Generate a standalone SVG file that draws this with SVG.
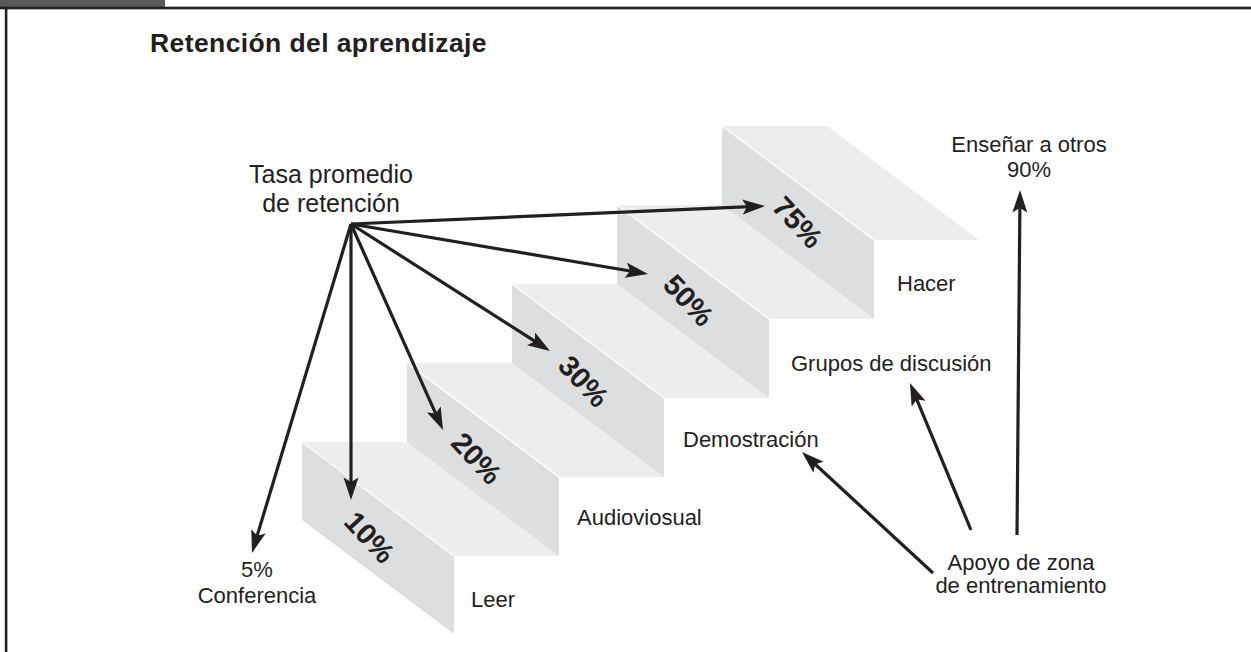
<svg xmlns="http://www.w3.org/2000/svg" width="1251" height="652" viewBox="0 0 1251 652">
<defs>
<style>
.t{font-family:"Liberation Sans",Arial,sans-serif;font-size:22px;fill:#231f20}
.c{text-anchor:middle}
.title{font-family:"Liberation Sans",Arial,sans-serif;font-size:26.5px;font-weight:bold;fill:#231f20;letter-spacing:0.4px}
.pct{font-family:"Liberation Sans",Arial,sans-serif;font-size:29px;font-weight:bold;fill:#231f20;text-anchor:middle}
.face{fill:#dddee0}
.tread{fill:#ededee}
.edge{stroke:#ffffff;stroke-width:1.2;fill:none}
.arr{stroke:#231f20;stroke-width:3.2;fill:none;marker-end:url(#ah)}
</style>
<marker id="ah" markerUnits="userSpaceOnUse" markerWidth="30" markerHeight="20" viewBox="-10 -10 30 20" refX="0" refY="0" orient="auto">
<path d="M15,0 L-7.5,-7.5 L-3,0 L-7.5,7.5 Z" fill="#231f20"/>
</marker>
</defs>
<rect width="1251" height="652" fill="#ffffff"/>
<g id="frame">
<rect x="0" y="0" width="165" height="7" fill="#58595b"/>
<rect x="0" y="6.7" width="1251" height="2.6" fill="#231f20"/>
<rect x="4.8" y="6.7" width="2.6" height="646" fill="#231f20"/>
</g>
<text id="title" class="title" x="150" y="52">Retención del aprendizaje</text>
<g id="stairs">
<g id="step-10">
<polygon class="tread" points="302,442 407,442 559,556 454,556"/>
<polygon class="face" points="302,442 454,556 454,634 302,520"/>
<line class="edge" x1="302" y1="442" x2="454" y2="556"/>
</g>
<g id="step-20">
<polygon class="tread" points="407,363 512,363 664,477 559,477"/>
<polygon class="face" points="407,363 559,477 559,556 407,442"/>
<line class="edge" x1="407" y1="363" x2="559" y2="477"/>
</g>
<g id="step-30">
<polygon class="tread" points="512,284 617,284 769,398 664,398"/>
<polygon class="face" points="512,284 664,398 664,477 512,363"/>
<line class="edge" x1="512" y1="284" x2="664" y2="398"/>
</g>
<g id="step-50">
<polygon class="tread" points="617,205 722,205 874,319 769,319"/>
<polygon class="face" points="617,205 769,319 769,398 617,284"/>
<line class="edge" x1="617" y1="205" x2="769" y2="319"/>
</g>
<g id="step-75">
<polygon class="tread" points="722,126 827,126 979,240 874,240"/>
<polygon class="face" points="722,126 874,240 874,319 722,205"/>
<line class="edge" x1="722" y1="126" x2="874" y2="240"/>
</g>
<g id="pct-labels">
<text class="pct" transform="translate(370,537) rotate(47)" x="0" y="10.5">10%</text>
<text class="pct" transform="translate(477,458) rotate(47)" x="0" y="10.5">20%</text>
<text class="pct" transform="translate(584,381) rotate(47)" x="0" y="10.5">30%</text>
<text class="pct" transform="translate(689,300) rotate(47)" x="0" y="10.5">50%</text>
<text class="pct" transform="translate(798,222) rotate(47)" x="0" y="10.5">75%</text>
</g>
</g>
<g id="node-tasa">
<text class="t c" x="331" y="183" style="font-size:25px">Tasa promedio</text>
<text class="t c" x="331" y="212" style="font-size:25px">de retención</text>
</g>
<g id="node-ensenar">
<text class="t c" x="1029" y="152">Enseñar a otros</text>
<text class="t c" x="1029" y="177">90%</text>
</g>
<g id="node-hacer"><text class="t" x="897" y="291">Hacer</text></g>
<g id="node-grupos"><text class="t" x="791" y="371">Grupos de discusión</text></g>
<g id="node-demostracion"><text class="t" x="683" y="447">Demostración</text></g>
<g id="node-audiovisual"><text class="t" x="577" y="525">Audioviosual</text></g>
<g id="node-leer"><text class="t" x="471" y="607">Leer</text></g>
<g id="node-conferencia">
<text class="t c" x="257" y="577">5%</text>
<text class="t c" x="257" y="603">Conferencia</text>
</g>
<g id="node-apoyo">
<text class="t c" x="1021" y="570">Apoyo de zona</text>
<text class="t c" x="1021" y="593">de entrenamiento</text>
</g>
<g id="connectors">
<line class="arr" x1="351" y1="224" x2="256.3" y2="538.6"/>
<line class="arr" x1="351" y1="224" x2="351" y2="485"/>
<line class="arr" x1="351" y1="224" x2="436.9" y2="416.3"/>
<line class="arr" x1="351" y1="224" x2="537.4" y2="342.9"/>
<line class="arr" x1="351" y1="224" x2="633.2" y2="271.5"/>
<line class="arr" x1="351" y1="224" x2="750" y2="206.7"/>
<line class="arr" x1="933" y1="573" x2="813" y2="462.2"/>
<line class="arr" x1="971" y1="530" x2="915.7" y2="396.8"/>
<line class="arr" x1="1017" y1="535" x2="1019.9" y2="205"/>
</g>
</svg>
